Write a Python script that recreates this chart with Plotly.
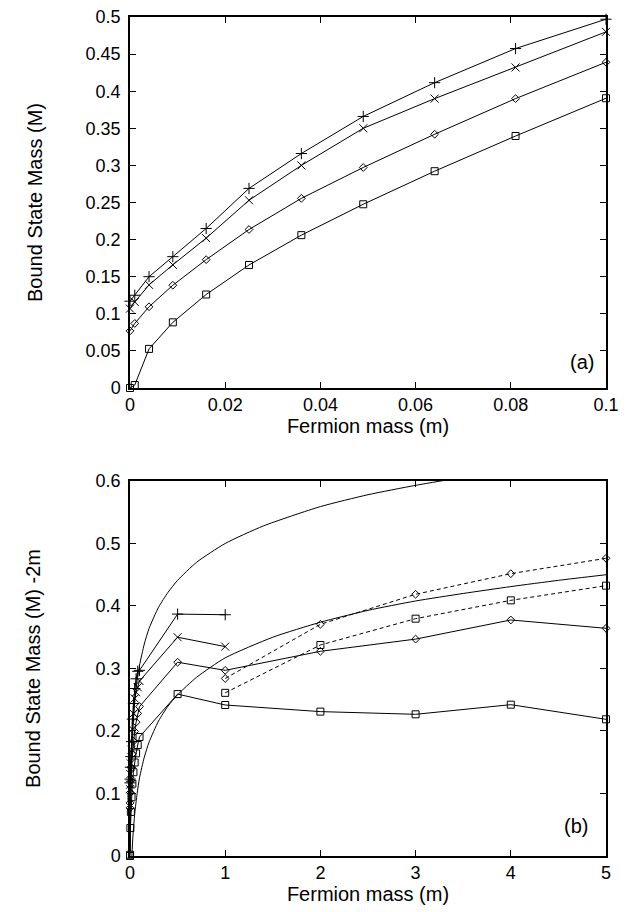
import plotly.graph_objects as go

# ---------- Panel (a) data ----------
m_small = [0, 0.001, 0.004, 0.009, 0.016, 0.025, 0.036, 0.049, 0.064, 0.081, 0.1]
a_plus = [0.117, 0.125, 0.150, 0.177, 0.215, 0.269, 0.316, 0.366, 0.4115, 0.4575, 0.497]
a_x = [0.107, 0.116, 0.139, 0.166, 0.202, 0.253, 0.300, 0.350, 0.390, 0.432, 0.480]
a_diamond = [0.077, 0.087, 0.1095, 0.1385, 0.173, 0.2136, 0.2556, 0.2972, 0.342, 0.390, 0.439]
a_square = [0.0, 0.004, 0.0527, 0.0885, 0.126, 0.1658, 0.206, 0.2476, 0.2922, 0.3396, 0.3905]

# ---------- Panel (b) data (M - 2m) ----------
b_plus_x = m_small + [0.5, 1]
b_plus = [0.117, 0.123, 0.142, 0.159, 0.183, 0.219, 0.244, 0.268, 0.2835, 0.2955, 0.297, 0.387, 0.386]
b_x_x = m_small + [0.5, 1]
b_x = [0.107, 0.114, 0.131, 0.148, 0.170, 0.203, 0.228, 0.252, 0.262, 0.270, 0.280, 0.350, 0.335]
b_dia_x = m_small + [0.5, 1, 2, 3, 4, 5]
b_dia = [0.077, 0.085, 0.1015, 0.1205, 0.141, 0.1636, 0.1836, 0.1992, 0.214, 0.228, 0.239,
         0.310, 0.297, 0.3275, 0.347, 0.3776, 0.3643]
b_sq_x = m_small + [0.5, 1, 2, 3, 4, 5]
b_sq = [0.0, 0.002, 0.0447, 0.0705, 0.094, 0.1158, 0.134, 0.1496, 0.1642, 0.1776, 0.1905,
        0.259, 0.2416, 0.231, 0.2267, 0.2421, 0.2187]
b_dash_dia_x = [1, 2, 3, 4, 5]
b_dash_dia = [0.284, 0.3707, 0.4187, 0.4517, 0.4763]
b_dash_sq_x = [1, 2, 3, 4, 5]
b_dash_sq = [0.261, 0.3376, 0.3797, 0.409, 0.4325]

# smooth reference curves
upper_curve_x = [0.003, 0.005, 0.01, 0.02, 0.035, 0.05, 0.075, 0.1, 0.15, 0.2, 0.3, 0.4, 0.5,
                 0.7, 1.0, 1.4, 2.0, 2.5, 3.0, 3.5]
upper_curve_y = [0.008, 0.051, 0.110, 0.169, 0.216, 0.246, 0.281, 0.305, 0.339, 0.364, 0.398,
                 0.422, 0.441, 0.470, 0.500, 0.528, 0.559, 0.578, 0.593, 0.606]
lower_curve_x = [0.02, 0.03, 0.05, 0.075, 0.1, 0.15, 0.2, 0.3, 0.4, 0.5, 0.7, 1.0, 1.5, 2.0,
                 2.5, 3.0, 3.5, 4.0, 4.5, 5.0]
lower_curve_y = [0.0, 0.03, 0.068, 0.1, 0.125, 0.158, 0.182, 0.216, 0.24, 0.258, 0.286, 0.317,
                 0.35, 0.374, 0.393, 0.408, 0.42, 0.431, 0.441, 0.45]

a_xticks = [0, 0.02, 0.04, 0.06, 0.08, 0.1]
a_xticklabels = ["0", "0.02", "0.04", "0.06", "0.08", "0.1"]
a_yticks = [0, 0.05, 0.1, 0.15, 0.2, 0.25, 0.3, 0.35, 0.4, 0.45, 0.5]
a_yticklabels = ["0", "0.05", "0.1", "0.15", "0.2", "0.25", "0.3", "0.35", "0.4", "0.45", "0.5"]
b_xticks = [0, 1, 2, 3, 4, 5]
b_xticklabels = ["0", "1", "2", "3", "4", "5"]
b_yticks = [0, 0.1, 0.2, 0.3, 0.4, 0.5, 0.6]
b_yticklabels = ["0", "0.1", "0.2", "0.3", "0.4", "0.5", "0.6"]

FONT = "Liberation Sans, Arial, sans-serif"

fig = go.Figure()

def add(x, y, symbol, size, xa, ya, dash="solid"):
    fig.add_trace(go.Scatter(
        x=x, y=y, mode="lines+markers", xaxis=xa, yaxis=ya,
        line=dict(color="black", width=1, dash=dash),
        marker=dict(symbol=symbol, size=size, color="black",
                    line=dict(color="black", width=1)),
        showlegend=False, hoverinfo="skip", cliponaxis=False,
    ))

# panel (a)
add(m_small, a_plus, "cross-thin-open", 8, "x", "y")
add(m_small, a_x, "x-thin-open", 8, "x", "y")
add(m_small, a_diamond, "diamond-open", 6, "x", "y")
add(m_small, a_square, "square-open", 7, "x", "y")

# panel (b)
for cx, cy in [(upper_curve_x, upper_curve_y), (lower_curve_x, lower_curve_y)]:
    fig.add_trace(go.Scatter(x=cx, y=cy, mode="lines", xaxis="x2", yaxis="y2",
                             line=dict(color="black", width=1, shape="spline", smoothing=0.6),
                             showlegend=False, hoverinfo="skip"))
add(b_plus_x, b_plus, "cross-thin-open", 8, "x2", "y2")
add(b_x_x, b_x, "x-thin-open", 8, "x2", "y2")
add(b_dia_x, b_dia, "diamond-open", 6, "x2", "y2")
add(b_sq_x, b_sq, "square-open", 7, "x2", "y2")
add(b_dash_dia_x, b_dash_dia, "diamond-open", 6, "x2", "y2", dash="4px,3px")
add(b_dash_sq_x, b_dash_sq, "square-open", 7, "x2", "y2", dash="4px,3px")

axis_common = dict(
    showline=True, linecolor="black", linewidth=1.5, mirror="ticks",
    ticks="inside", ticklen=6, tickwidth=1, tickcolor="black",
    showgrid=False, zeroline=False, automargin=False, ticklabeloverflow="allow",
    tickfont=dict(family=FONT, size=18, color="black"),
    title_font=dict(family=FONT, size=20, color="black"),
)

# page body has an 8px margin, so the figure is shrunk by 8px to fit the window
fig.update_layout(
    width=631, height=904,
    margin=dict(l=122, r=33, t=9, b=56),
    paper_bgcolor="white", plot_bgcolor="white",
    xaxis=dict(axis_common, domain=[0, 1], anchor="y", range=[0, 0.1],
               tickvals=a_xticks, ticktext=a_xticklabels,
               title=dict(text="Fermion mass (m)", standoff=0)),
    yaxis=dict(axis_common, domain=[0.5578, 1.0], anchor="x", range=[0, 0.5],
               tickvals=a_yticks, ticktext=a_yticklabels, ticklabelstandoff=4,
               title=dict(text="Bound State Mass (M)", standoff=38)),
    xaxis2=dict(axis_common, domain=[0, 1], anchor="y2", range=[0, 5],
                tickvals=b_xticks, ticktext=b_xticklabels,
                title=dict(text="Fermion mass (m)", standoff=0)),
    yaxis2=dict(axis_common, domain=[0, 0.447], anchor="x2", range=[0, 0.6],
                tickvals=b_yticks, ticktext=b_yticklabels, ticklabelstandoff=4,
                title=dict(text="Bound State Mass (M) -2m", standoff=50)),
    annotations=[
        dict(text="(a)", x=0.095, y=0.035, xref="x", yref="y", showarrow=False,
             font=dict(family=FONT, size=20, color="black")),
        dict(text="(b)", x=4.69, y=0.048, xref="x2", yref="y2", showarrow=False,
             font=dict(family=FONT, size=20, color="black")),
    ],
)

fig.write_html("out.html")
